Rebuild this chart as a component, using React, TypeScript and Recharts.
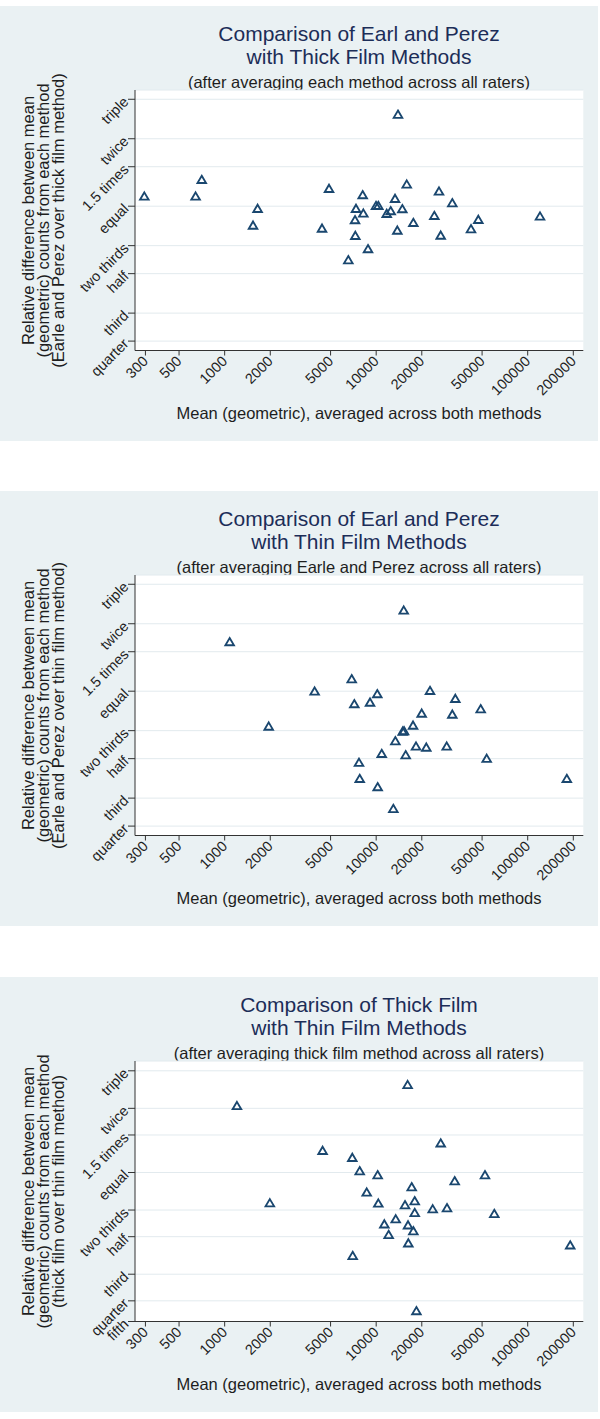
import { CartesianGrid, Scatter, ScatterChart, XAxis, YAxis } from 'recharts'

// x: geometric mean count, y: ratio between the two methods
const thickMean = [295, 643, 706, 1539, 1650, 4391, 4884, 6549, 7250, 7284, 7360, 8147, 8228, 8834, 9975, 10330, 11740, 12470, 13320, 13790, 13930, 14880, 15910, 17590, 24200, 25980, 26660, 31800, 42250, 47220, 120600]
const thickRatio = [1.104, 1.104, 1.31, 0.819, 0.973, 0.794, 1.195, 0.574, 0.866, 0.737, 0.973, 1.12, 0.927, 0.643, 1.003, 1.003, 0.924, 0.95, 1.078, 0.778, 2.56, 0.97, 1.249, 0.842, 0.905, 1.162, 0.739, 1.031, 0.789, 0.869, 0.899]

const thinMean = [1079, 1953, 3925, 6896, 7173, 7702, 7787, 9107, 10170, 10230, 10880, 12980, 13380, 14970, 15270, 15200, 15660, 17510, 18320, 19970, 21420, 22660, 29210, 31810, 33290, 48960, 53630, 181200]
const thinRatio = [1.655, 0.695, 0.996, 1.131, 0.875, 0.479, 0.406, 0.889, 0.97, 0.373, 0.525, 0.298, 0.598, 0.66, 0.663, 2.29, 0.518, 0.702, 0.566, 0.794, 0.56, 1.003, 0.566, 0.786, 0.924, 0.831, 0.499, 0.406]

const filmMean = [1205, 1987, 4431, 6958, 7000, 7786, 8660, 10230, 10330, 11320, 12090, 13460, 15500, 16130, 16230, 16300, 17160, 17590, 17960, 17960, 18430, 23610, 26660, 29340, 32980, 52250, 60200, 190800]
const filmRatio = [2.049, 0.717, 1.263, 1.171, 0.406, 1.014, 0.805, 0.971, 0.715, 0.571, 0.509, 0.603, 0.702, 2.572, 0.565, 0.465, 0.853, 0.53, 0.733, 0.646, 0.2236, 0.672, 1.369, 0.68, 0.91, 0.971, 0.639, 0.455]

const xTicks = [300, 500, 1000, 2000, 5000, 10000, 20000, 50000, 100000, 200000]
const ratioTicks = [0.25, 1 / 3, 0.5, 2 / 3, 1, 1.5, 2, 3]
const ratioNames = ['quarter', 'third', 'half', 'two thirds', 'equal', '1.5 times', 'twice', 'triple']
const ratioTicksFifth = [0.2, ...ratioTicks]
const ratioNamesFifth = ['fifth', ...ratioNames]

const BG = '#eaf1f3'
const NAVY = '#1a476f'
const INK = '#1e1e1e'
const FONT = '"Liberation Sans", Arial, Helvetica, sans-serif'

const toRows = (xs: number[], ys: number[]) => xs.map((x, i) => ({ x, y: ys[i] }))

const Tri = (p: any) => {
  const { cx, cy } = p
  if (cx == null || cy == null) return <g />
  return (
    <path
      d={`M${cx},${cy - 4.2} L${cx + 4.3},${cy + 3.1} L${cx - 4.3},${cy + 3.1} Z`}
      fill="none"
      stroke={NAVY}
      strokeWidth={1.85}
    />
  )
}

function makeYTick(ticks: number[], names: string[]) {
  return (props: any) => {
    const { x, y, payload } = props
    const i = ticks.findIndex((t) => Math.abs(t - payload.value) < 1e-6)
    return (
      <text
        x={x}
        y={y}
        transform={`rotate(-45 ${x} ${y})`}
        textAnchor="end"
        dominantBaseline="central"
        fontSize={14.5}
        fontFamily={FONT}
        fill={INK}
      >
        {i >= 0 ? names[i] : ''}
      </text>
    )
  }
}

const XTick = (props: any) => {
  const { x, y, payload } = props
  return (
    <text
      x={x}
      y={y}
      transform={`rotate(-45 ${x} ${y})`}
      textAnchor="end"
      dominantBaseline="central"
      fontSize={14.5}
      fontFamily={FONT}
      fill={INK}
    >
      {payload.value}
    </text>
  )
}

interface PanelProps {
  top: number
  title: [string, string]
  subtitle: string
  yTitle: [string, string, string]
  rows: { x: number; y: number }[]
  yDomain: [number, number]
  ticks: number[]
  names: string[]
}

function Panel({ top, title, subtitle, yTitle, rows, yDomain, ticks, names }: PanelProps) {
  return (
    <div style={{ position: 'absolute', left: 0, top, width: 598, height: 435, background: BG, fontFamily: FONT }}>
      <div
        style={{
          position: 'absolute',
          left: 135,
          width: 448,
          top: 15.5,
          textAlign: 'center',
          color: '#1c2d58',
          fontSize: 21,
          lineHeight: '23.5px',
          whiteSpace: 'nowrap',
        }}
      >
        {title[0]}
        <br />
        {title[1]}
      </div>
      <div
        style={{
          position: 'absolute',
          left: 135,
          width: 448,
          top: 66.5,
          textAlign: 'center',
          color: INK,
          fontSize: 16.5,
          lineHeight: '18px',
          whiteSpace: 'nowrap',
        }}
      >
        {subtitle}
      </div>
      <div
        style={{
          position: 'absolute',
          left: 43 - 170,
          top: 214 - 22.5,
          width: 340,
          height: 45,
          transform: 'rotate(-90deg)',
          textAlign: 'center',
          color: INK,
          fontSize: 16.5,
          lineHeight: '15px',
          whiteSpace: 'nowrap',
        }}
      >
        {yTitle[0]}
        <br />
        {yTitle[1]}
        <br />
        {yTitle[2]}
      </div>
      <div
        style={{
          position: 'absolute',
          left: 135,
          width: 448,
          top: 398,
          textAlign: 'center',
          color: INK,
          fontSize: 16.5,
          lineHeight: '18px',
          whiteSpace: 'nowrap',
        }}
      >
        Mean (geometric), averaged across both methods
      </div>
      <div style={{ position: 'absolute', left: 0, top: 0 }}>
        <ScatterChart width={598} height={435} margin={{ top: 84, right: 14.7, left: 0, bottom: 0 }}>
          <CartesianGrid vertical={false} fill="#ffffff" stroke="#e2eaee" strokeWidth={1} />
          <XAxis
            dataKey="x"
            type="number"
            scale="log"
            domain={[256, 232800]}
            allowDataOverflow
            ticks={xTicks}
            interval={0}
            height={90.5}
            tickSize={5}
            tickMargin={3}
            stroke="#333"
            tick={XTick}
          />
          <YAxis
            dataKey="y"
            type="number"
            scale="log"
            domain={yDomain}
            allowDataOverflow
            ticks={ticks}
            interval={0}
            width={135}
            tickSize={7}
            tickMargin={2}
            stroke="#333"
            tick={makeYTick(ticks, names)}
          />
          <Scatter data={rows} shape={Tri} isAnimationActive={false} />
        </ScatterChart>
      </div>
    </div>
  )
}

export default function App() {
  return (
    <div style={{ position: 'relative', width: 600, height: 1419, background: '#fff' }}>
      <style>{'body{margin:0}'}</style>
      <Panel
        top={6}
        title={['Comparison of Earl and Perez', 'with Thick Film Methods']}
        subtitle="(after averaging each method across all raters)"
        yTitle={['Relative difference between mean', '(geometric) counts from each method', '(Earle and Perez over thick film method)']}
        rows={toRows(thickMean, thickRatio)}
        yDomain={[0.227, 3.3]}
        ticks={ratioTicks}
        names={ratioNames}
      />
      <Panel
        top={491}
        title={['Comparison of Earl and Perez', 'with Thin Film Methods']}
        subtitle="(after averaging Earle and Perez across all raters)"
        yTitle={['Relative difference between mean', '(geometric) counts from each method', '(Earle and Perez over thin film method)']}
        rows={toRows(thinMean, thinRatio)}
        yDomain={[0.227, 3.3]}
        ticks={ratioTicks}
        names={ratioNames}
      />
      <Panel
        top={977}
        title={['Comparison of Thick Film', 'with Thin Film Methods']}
        subtitle="(after averaging thick film method across all raters)"
        yTitle={['Relative difference between mean', '(geometric) counts from each method', '(thick film over thin film method)']}
        rows={toRows(filmMean, filmRatio)}
        yDomain={[0.2, 3.335]}
        ticks={ratioTicksFifth}
        names={ratioNamesFifth}
      />
    </div>
  )
}
